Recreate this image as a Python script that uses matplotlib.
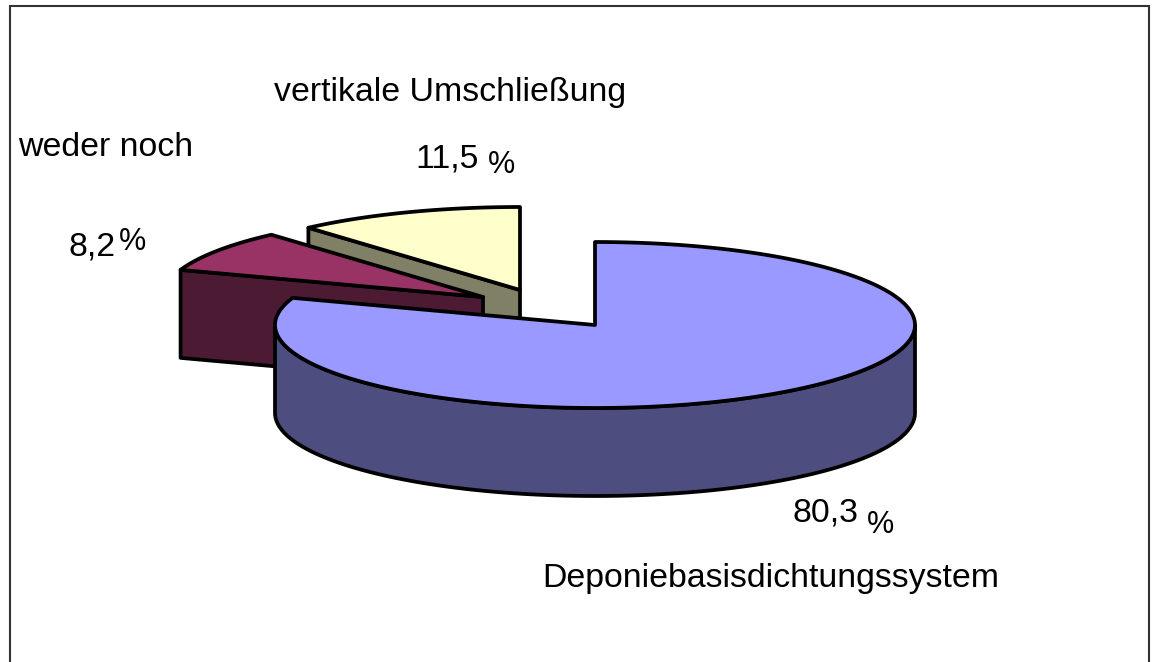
import numpy as np
import matplotlib
matplotlib.use("Agg")
import matplotlib.pyplot as plt
from matplotlib.patches import Polygon, Rectangle

plt.rcParams['font.family'] = ['Liberation Sans', 'DejaVu Sans']

labels = ["Deponiebasisdichtungssystem", "weder noch", "vertikale Umschließung"]
values = [80.3, 8.2, 11.5]
top_colors = ["#9999ff", "#993366", "#ffffcc"]
side_colors = ["#4d4d80", "#4d1a33", "#808066"]

# pie geometry in pixels, the picture is a tilted pie so all is done by hand
centers = [(595, 325), (483, 297), (520, 290)]
rx, ry = 320, 83
depth = 88
lw = 2.7


def rim(c, a1, a2, n=120):
    t = np.radians(np.linspace(a1, a2, n))
    return np.column_stack([c[0] + rx * np.cos(t), c[1] - ry * np.sin(t)])


# angles go clockwise from 12 o'clock like in the original
ends = 90 - np.cumsum(values) * 3.6
starts = np.r_[90, ends[:-1]]

fig = plt.figure(figsize=(11.6, 6.62), dpi=100)
ax = fig.add_axes([0, 0, 1, 1])
ax.set_xlim(0, 1160)
ax.set_ylim(662, 0)
ax.axis('off')

ax.add_patch(Rectangle((10, 6), 1139, 700, fc='white', ec='#333333', lw=1.5, zorder=0))

style = dict(ec='black', lw=lw, joinstyle='round')

# back slices first: vertikale Umschliessung, then weder noch
for i, z in ((2, 1), (1, 2)):
    c = centers[i]
    arc = rim(c, ends[i], starts[i])
    # for both, the side that shows is the cut face at the left rim end
    left = arc[np.argmin(arc[:, 0])]
    tip = np.array(c)
    face = np.array([left, tip, tip + [0, depth], left + [0, depth]])
    ax.add_patch(Polygon(face, fc=side_colors[i], zorder=z, **style))
    ax.add_patch(Polygon(np.vstack([arc, c]), fc=top_colors[i], zorder=z + 0.1, **style))

# big slice
c = centers[0]
front = rim(c, 180, 360)
side = np.vstack([front, (front + [0, depth])[::-1]])
ax.add_patch(Polygon(side, fc=side_colors[0], zorder=3, **style))
arc = rim(c, ends[0], starts[0], 300)
ax.add_patch(Polygon(np.vstack([arc, c]), fc=top_colors[0], zorder=3.1, **style))

fs = 24.4
ax.text(542, 578, labels[0], fontsize=fs, va='center', ha='left', zorder=5)
ax.text(18, 147, labels[1], fontsize=fs, va='center', ha='left', zorder=5)
ax.text(274, 92, labels[2], fontsize=fs, va='center', ha='left', zorder=5)


def pct(v):
    return f"{v:.1f}".replace('.', ',')


ax.text(793, 522, pct(values[0]), fontsize=fs, va='baseline', ha='left', zorder=5)
ax.text(867, 533, "%", fontsize=22, va='baseline', ha='left', zorder=5)
ax.text(69, 255, pct(values[1]), fontsize=fs, va='baseline', ha='left', zorder=5)
ax.text(119, 250, "%", fontsize=22, va='baseline', ha='left', zorder=5)
ax.text(415, 168, pct(values[2]), fontsize=fs, va='baseline', ha='left', zorder=5)
ax.text(488, 173, "%", fontsize=22, va='baseline', ha='left', zorder=5)

fig.savefig("out.png", dpi=100)
